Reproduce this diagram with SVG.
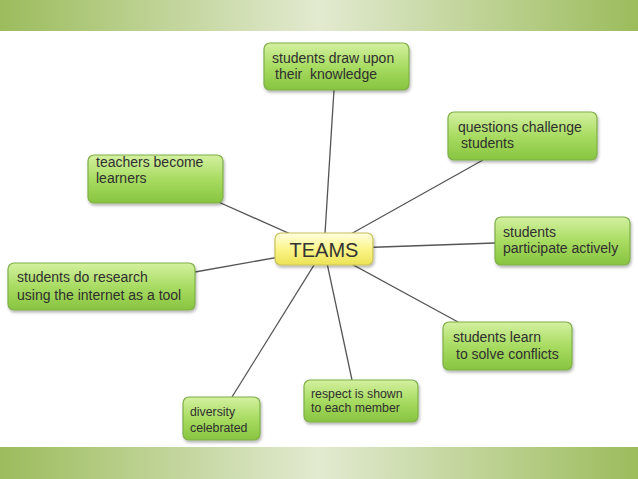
<svg xmlns="http://www.w3.org/2000/svg" width="638" height="479" viewBox="0 0 638 479">
<defs>
<linearGradient id="band" x1="0" y1="0" x2="1" y2="0">
<stop offset="0" stop-color="#9cbc5c"/>
<stop offset="0.5" stop-color="#e2ead0"/>
<stop offset="1" stop-color="#9cbc5c"/>
</linearGradient>
<linearGradient id="g" x1="0" y1="0" x2="0" y2="1">
<stop offset="0" stop-color="#d4f0a0"/>
<stop offset="0.5" stop-color="#a8dc62"/>
<stop offset="1" stop-color="#88c440"/>
</linearGradient>
<linearGradient id="y" x1="0" y1="0" x2="0" y2="1">
<stop offset="0" stop-color="#fffee0"/>
<stop offset="0.5" stop-color="#fbf58a"/>
<stop offset="1" stop-color="#ece256"/>
</linearGradient>
<filter id="sh" x="-10%" y="-10%" width="130%" height="140%">
<feDropShadow dx="1" dy="2" stdDeviation="1.5" flood-color="#000" flood-opacity="0.3"/>
</filter>
</defs>
<style>
.n{fill:url(#g);stroke:#7fb048;stroke-width:1.2;filter:url(#sh)}
.c{fill:url(#y);stroke:#c9c25a;stroke-width:1.2;filter:url(#sh)}
.t{font-family:"Liberation Sans",Arial,sans-serif;font-size:14px;fill:#2f2f2f}
.s{font-size:12.3px}
.e{stroke:#555;stroke-width:1.3;fill:none}
</style>
<rect x="0" y="0" width="638" height="479" fill="#fff"/>
<rect x="0" y="0" width="638" height="31" fill="url(#band)"/>
<rect x="0" y="447" width="638" height="32" fill="url(#band)"/>
<g id="connectors">
<line class="e" x1="324" y1="249" x2="334" y2="90"/>
<line class="e" x1="324" y1="249" x2="483" y2="160"/>
<line class="e" x1="324" y1="249" x2="495" y2="243"/>
<line class="e" x1="324" y1="249" x2="458" y2="322"/>
<line class="e" x1="324" y1="249" x2="352" y2="380"/>
<line class="e" x1="324" y1="249" x2="232" y2="397"/>
<line class="e" x1="324" y1="249" x2="195" y2="272"/>
<line class="e" x1="324" y1="249" x2="205" y2="196"/>
</g>
<g id="n1"><rect class="n" x="264" y="43" width="145" height="47" rx="6"/>
<text class="t" x="272" y="63">students draw upon</text><text class="t" x="275" y="79" xml:space="preserve">their  knowledge</text></g>
<g id="n2"><rect class="n" x="448" y="112" width="149" height="48" rx="6"/>
<text class="t" x="458" y="132">questions challenge</text><text class="t" x="461" y="148">students</text></g>
<g id="n3"><rect class="n" x="495" y="217" width="135" height="48" rx="6"/>
<text class="t" x="503" y="237">students</text><text class="t" x="503" y="253">participate actively</text></g>
<g id="n4"><rect class="n" x="443" y="322" width="129" height="48" rx="6"/>
<text class="t" x="453" y="342">students learn</text><text class="t" x="456" y="359">to solve conflicts</text></g>
<g id="n5"><rect class="n" x="304" y="380" width="114" height="42" rx="6"/>
<text class="t s" x="311" y="398">respect is shown</text><text class="t s" x="311" y="412">to each member</text></g>
<g id="n6"><rect class="n" x="183" y="397" width="77" height="43" rx="6"/>
<text class="t s" x="190" y="416">diversity</text><text class="t s" x="190" y="432">celebrated</text></g>
<g id="n7"><rect class="n" x="8" y="263" width="187" height="47" rx="6"/>
<text class="t" x="17" y="282">students do research</text><text class="t" x="17" y="300">using the internet as a tool</text></g>
<g id="n8"><rect class="n" x="88" y="155" width="135" height="48" rx="6"/>
<text class="t" x="96" y="167">teachers become</text><text class="t" x="96" y="183">learners</text></g>
<g id="center"><rect class="c" x="275" y="233" width="98" height="32" rx="6"/>
<text class="t" x="324" y="257" text-anchor="middle" style="font-size:20px;fill:#333">TEAMS</text></g>
</svg>
